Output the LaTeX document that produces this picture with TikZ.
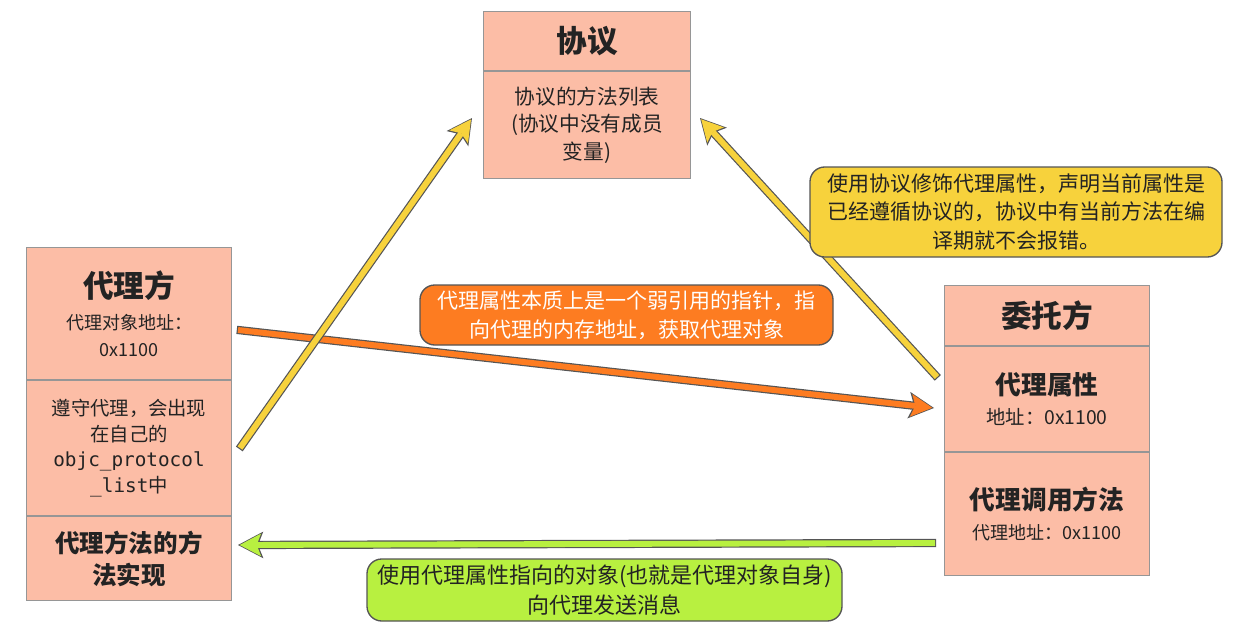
\documentclass[tikz,border=0pt]{standalone}
\usepackage{fontspec}
\setmainfont{Noto Sans CJK SC}
\newfontfamily\codefont{DejaVu Sans Mono}
\usetikzlibrary{arrows.meta,positioning}

\definecolor{boxfill}{RGB}{252,189,166}
\definecolor{boxline}{RGB}{150,150,150}
\definecolor{rim}{RGB}{85,85,85}
\definecolor{ink}{RGB}{35,35,35}
\definecolor{yel}{RGB}{247,210,60}
\definecolor{org}{RGB}{253,124,33}
\definecolor{grn}{RGB}{184,240,64}

\newcommand\txtbig{\fontsize{23}{28}\selectfont\bfseries}
\newcommand\txthead{\fontsize{19.3}{24}\selectfont\bfseries}
\newcommand\txtimpl{\fontsize{18.4}{24}\selectfont\bfseries}
\newcommand\txtbody{\fontsize{15.5}{20.6}\selectfont}
\newcommand\txtmid{\fontsize{14.5}{19.3}\selectfont}
\newcommand\txtsmall{\fontsize{13.5}{20}\selectfont}
\newcommand\txtnote{\fontsize{15.75}{21.6}\selectfont}
\newcommand\txtsend{\fontsize{16.5}{23}\selectfont}

\tikzset{every picture/.style={line width=0.75pt}}
\tikzset{
  part/.style={draw=boxline, fill=boxfill, text=ink, align=center, inner sep=0pt, minimum width=153.75pt},
  note/.style={draw=rim, line width=1pt, rounded corners=11pt, align=center, inner sep=0pt},
  fat/.style={draw=#1, line width=4.4pt, shorten >=1.3pt,
    -{Stealth[length=16pt, width=17pt, inset=3.2pt, line width=0pt]},
    preaction={draw=rim, line width=6.2pt, shorten >=0pt, shorten <=-0.9pt,
      -{Stealth[length=19pt, width=20pt, inset=4pt, line width=0pt]}}},
}

\begin{document}
\begin{tikzpicture}[x=0.75pt,y=0.75pt,yscale=-1]
\useasboundingbox (0,0) rectangle (1240,639);

%Protocol box
\node [part, anchor=north west, minimum width=155.25pt, minimum height=44.25pt, font=\txtbig] (prot) at (483,11) {协议};
\node [part, below=0pt of prot, minimum width=155.25pt, minimum height=80.25pt, font=\txtbody] (protlist) {协议的方法列表\\(协议中没有成员\\变量)};

%Proxy box
\node [part, anchor=north west, minimum height=99pt, font=\txtsmall] (prx) at (26,247) {\txtbig 代理方\\[4pt] 代理对象地址：\\ 0x1100};
\node [part, below=0pt of prx, minimum height=101.25pt, font=\txtmid] (prxconf) {遵守代理，会出现\\在自己的\\{\codefont objc\_protocol}\\{\codefont \_list}中};
\node [part, below=0pt of prxconf, minimum height=63pt, font=\txtimpl] (prximpl) {代理方法的方\\法实现};

%Delegating box
\node [part, anchor=north west, minimum height=45pt, font=\txtbig] (dlg) at (944,285) {委托方};
\node [part, below=0pt of dlg, minimum height=78.75pt, font=\txtmid] (dlgprop) {\txthead 代理属性\\[3pt] 地址：0x1100};
\node [part, below=0pt of dlgprop, minimum height=92.25pt, font=\txtsmall] (dlgcall) {\txthead 代理调用方法\\[2.5pt] 代理地址：0x1100};

%Arrow ends
\coordinate (o1) at (238,330);
\coordinate (o2) at (934,408);
\coordinate (y1) at (240,448);
\coordinate (y2) at (472,118);
\coordinate (y3) at (937,377);
\coordinate (y4) at (700,118);
\coordinate (g1) at (935,543);
\coordinate (g2) at (238,545);

%Arrows
\draw [fat=org] (o1) -- (o2);
\draw [fat=yel] (y1) -- (y2);
\draw [fat=yel] (y3) -- (y4);
\draw [fat=grn] (g1) -- (g2);

%Notes
\node [note, fill=yel, text=ink, minimum width=309pt, minimum height=67.5pt, font=\txtnote] (warn) at (1016,212) {使用协议修饰代理属性，声明当前属性是\\已经遵循协议的，协议中有当前方法在编\\译期就不会报错。};
\node [note, fill=org, text=white, minimum width=309.75pt, minimum height=45pt, font=\txtnote] (weak) at (626.5,315) {代理属性本质上是一个弱引用的指针，指\\向代理的内存地址，获取代理对象};
\node [note, fill=grn, text=ink, minimum width=356.25pt, minimum height=46.5pt, font=\txtsend] (send) at (604.5,590) {使用代理属性指向的对象(也就是代理对象自身)\\向代理发送消息};

\end{tikzpicture}
\end{document}
